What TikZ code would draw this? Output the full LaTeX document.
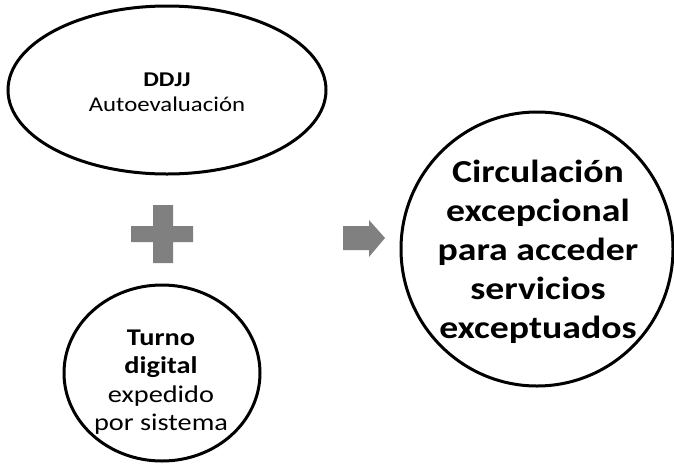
\documentclass[tikz,border=0pt]{standalone}
\usepackage{fontspec}
\setmainfont[FakeStretch=1.18]{Carlito}
\usetikzlibrary{shapes.geometric}
\tikzset{
  outline/.style={draw=black, line width=3pt, inner sep=0pt, align=center},
  markfill/.style={fill=black!50, draw=none}
}
\begin{document}
\begin{tikzpicture}[x=1pt,y=1pt]
\useasboundingbox (0,0) rectangle (674,-464);
% ellipse
\node[outline, ellipse, minimum width=318pt, minimum height=168pt] (ddjj) at (167,-90) {};
\node[font=\fontsize{21}{25}\selectfont, align=center] (ddjjtxt) at (167,-92) {\textbf{DDJJ}\\Autoevaluación};
% plus
\coordinate (plus) at (162,-234);
\fill[markfill] ([shift={(-31,-8)}]plus) -- ++(22,0) -- ++(0,-21) -- ++(20,0) -- ++(0,21) -- ++(20,0)
  -- ++(0,16) -- ++(-20,0) -- ++(0,21) -- ++(-20,0) -- ++(0,-21) -- ++(-22,0) -- cycle;
% turno circle
\node[outline, ellipse, minimum width=196pt, minimum height=176pt] (turno) at (162,-373) {};
\node[font=\fontsize{24}{28.5}\selectfont, align=center] (turnotxt) at (161,-382)
  {\textbf{Turno}\\\textbf{digital}\\expedido\\por sistema};
% arrow
\coordinate (arr) at (343,-238);
\fill[markfill] ([shift={(0,12)}]arr) -- ++(26,0) -- ++(0,6) -- ++(16,-18) -- ++(-16,-19) -- ++(0,7) -- ++(-26,0) -- cycle;
% big circle
\node[outline, ellipse, minimum width=272pt, minimum height=274pt] (circ) at (537,-249) {};
\node[font=\fontsize{32}{39}\selectfont\bfseries, align=center] (circtxt) at (538,-252)
  {Circulación\\excepcional\\para acceder\\servicios\\exceptuados};
\end{tikzpicture}
\end{document}
